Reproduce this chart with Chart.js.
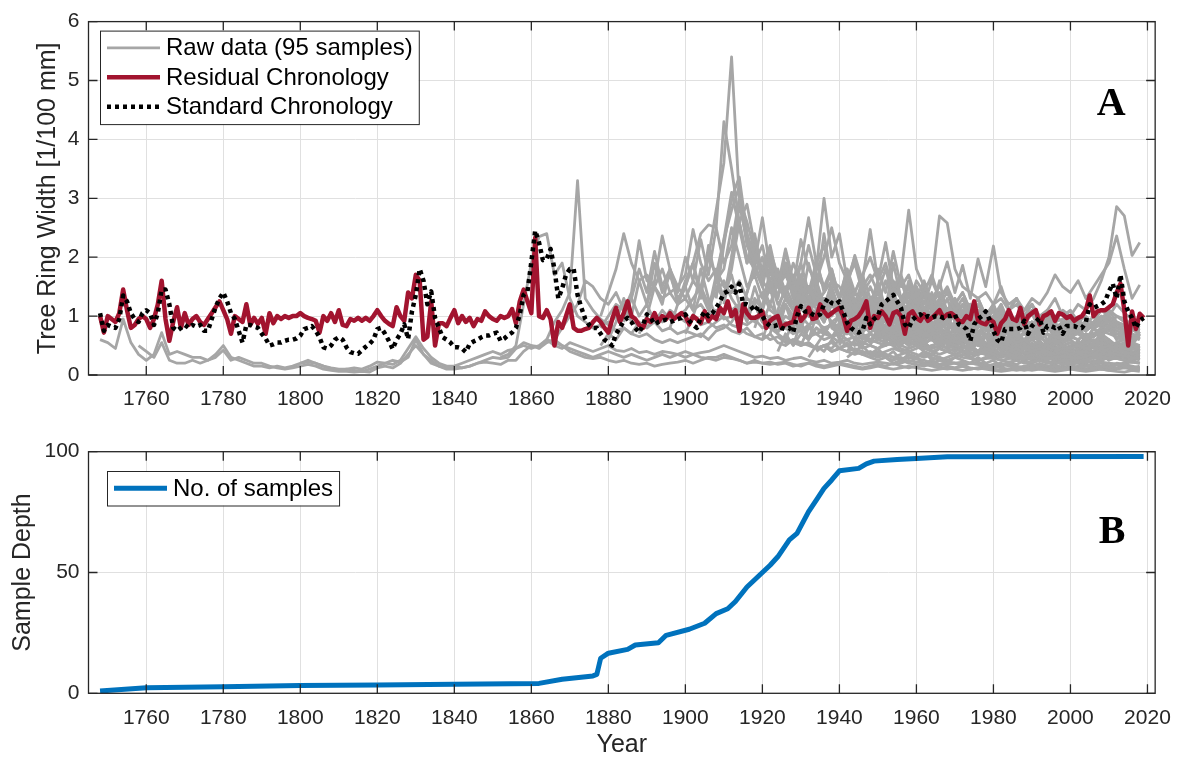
<!DOCTYPE html>
<html>
<head>
<meta charset="utf-8">
<title>Tree ring chronology</title>
<script src="https://cdn.jsdelivr.net/npm/chart.js@4.4.1/dist/chart.umd.min.js"></script>
<style>
  html, body { margin: 0; padding: 0; background: #fff; }
  #wrap { position: relative; width: 1183px; height: 760px; }
  canvas { position: absolute; left: 0; }
  #ringChart { top: 0; }
  #depthChart { top: 430px; }
</style>
</head>
<body>
<div id="wrap">
  <canvas id="ringChart" width="1183" height="430"></canvas>
  <canvas id="depthChart" width="1183" height="330"></canvas>
</div>
<script>
// ---- chronologies, one value per year from chronStart ----
var chronStart = 1748;
var residual = [
  1.0, 0.72,
  1.0, 0.95, 0.9, 1.05, 1.45, 1.1, 0.8, 0.85, 0.95, 1.0,
  0.95, 0.8, 0.95, 1.2, 1.6, 0.95, 0.58, 0.9, 1.15, 0.8,
  1.05, 0.85, 0.95, 1.0, 0.9, 0.85, 0.95, 1.05, 1.15, 1.25,
  1.1, 0.95, 0.7, 1.0, 0.95, 0.9, 1.2, 0.85, 0.97, 0.87,
  0.97, 0.7, 1.05, 0.88, 1.0, 0.95, 1.0, 0.97, 1.0, 1.0,
  1.05, 1.0, 0.97, 0.95, 0.92, 0.72, 1.0, 0.92, 1.05, 0.9,
  1.1, 0.85, 0.83, 0.95, 0.92, 0.97, 0.92, 0.97, 0.92, 1.0,
  1.1, 1.0, 0.92, 0.87, 0.83, 1.15, 1.0, 0.92, 1.4, 1.3,
  1.7, 1.6, 0.6, 0.65, 1.25, 0.5, 0.88, 0.88, 0.83, 0.97,
  1.1, 0.88, 1.0, 0.9, 0.97, 0.83, 0.95, 0.92, 1.08, 1.0,
  0.95, 0.92, 1.0, 0.97, 1.0, 1.12, 0.88, 1.25, 1.45, 1.25,
  1.05, 2.33, 1.0, 0.97, 1.1, 0.95, 0.5, 0.9, 0.8, 1.0,
  1.2, 0.8, 0.75, 0.75, 0.78, 0.8, 0.9, 0.97, 0.9, 0.8,
  0.72, 0.95, 1.14, 0.9, 1.05, 1.25, 1.0, 0.95, 0.85, 0.8,
  0.95, 0.9, 1.05, 0.9, 1.0, 0.95, 1.05, 0.95, 1.0, 1.05,
  1.0, 0.86, 1.0, 0.95, 0.88, 1.08, 0.92, 1.0, 0.95, 1.14,
  1.05, 1.25, 1.0, 1.1, 0.75, 1.2, 1.05, 0.97, 0.97, 1.0,
  1.08, 0.8, 0.92, 0.97, 1.0, 0.8, 0.86, 0.88, 0.9, 1.14,
  0.92, 1.0, 1.14, 0.95, 0.97, 1.2, 1.08, 1.0, 1.05, 1.1,
  1.14, 1.0, 0.75, 0.92, 0.95, 1.0, 1.1, 1.25, 0.8, 1.0,
  0.97, 1.08, 1.0, 0.86, 1.05, 1.08, 1.0, 0.7, 1.03, 1.08,
  0.97, 0.92, 1.03, 0.92, 0.97, 1.03, 1.1, 0.97, 1.03, 1.05,
  1.0, 0.92, 0.9, 1.0, 0.95, 1.25, 0.92, 0.88, 0.86, 0.95,
  0.9, 0.7, 0.88, 0.95, 1.1, 0.95, 0.92, 1.14, 0.86, 1.0,
  1.05, 1.1, 0.86, 1.0, 1.03, 1.08, 0.92, 1.05, 1.03, 0.97,
  1.0, 0.92, 0.97, 1.0, 1.1, 1.35, 1.0, 1.08, 1.1, 1.1,
  1.15, 1.2, 1.4, 1.55, 1.1, 0.5, 1.08, 0.78, 1.04, 0.97
];
var standard = [
  1.05, 0.75,
  0.85, 0.82, 0.8, 0.95, 1.35, 1.25, 1.05, 0.95, 0.9, 1.05,
  1.1, 1.05, 0.85, 1.05, 1.45, 1.45, 1.2, 0.8, 0.75, 0.8,
  0.85, 0.8, 0.85, 0.82, 0.85, 0.75, 0.75, 0.95, 1.15, 1.3,
  1.4, 1.25, 1.05, 0.95, 0.75, 0.55, 0.85, 0.85, 0.82, 0.8,
  0.7, 0.62, 0.5, 0.52, 0.55, 0.55, 0.58, 0.6, 0.6, 0.62,
  0.67, 0.78, 0.8, 0.83, 0.75, 0.64, 0.47, 0.45, 0.5, 0.6,
  0.64, 0.6, 0.47, 0.39, 0.37, 0.36, 0.42, 0.48, 0.53, 0.6,
  0.78, 0.8, 0.7, 0.58, 0.44, 0.6, 0.7, 0.86, 0.61, 1.08,
  1.36, 1.8, 1.6, 1.2, 1.42, 0.97, 0.8, 0.64, 0.6, 0.55,
  0.47, 0.47, 0.45, 0.39, 0.53, 0.57, 0.6, 0.64, 0.67, 0.67,
  0.7, 0.72, 0.58, 0.62, 0.68, 0.72, 0.8, 1.03, 1.36, 1.42,
  1.92, 2.45, 2.25, 1.95, 1.97, 2.14, 1.8, 1.3, 1.47, 1.7,
  1.8, 1.8, 1.36, 1.14, 0.95, 0.85, 0.8, 0.8, 0.7, 0.6,
  0.55, 0.5, 0.7, 0.8, 0.92, 0.97, 0.9, 0.8, 0.72, 0.85,
  1.03, 0.97, 0.86, 0.9, 0.92, 0.94, 0.9, 0.92, 0.95, 0.97,
  1.03, 0.92, 0.85, 0.8, 0.97, 1.08, 1.0, 1.05, 1.14, 1.25,
  1.39, 1.42, 1.5, 1.4, 1.55, 1.2, 1.2, 1.17, 1.08, 1.17,
  1.0, 0.89, 0.83, 0.83, 0.85, 0.8, 0.78, 0.8, 0.72, 1.0,
  1.17, 1.08, 1.08, 1.03, 1.0, 1.03, 1.2, 1.3, 1.22, 1.2,
  1.25, 1.08, 0.89, 0.8, 0.75, 0.72, 0.75, 0.97, 0.86, 0.95,
  1.0, 1.2, 1.25, 1.3, 1.36, 1.25, 1.14, 0.86, 0.8, 0.94,
  1.0, 1.03, 0.97, 1.0, 0.97, 1.0, 1.0, 0.97, 1.0, 1.0,
  1.03, 0.86, 0.83, 0.78, 0.58, 0.86, 0.95, 1.0, 1.08, 0.94,
  0.75, 0.6, 0.55, 0.78, 0.78, 0.78, 0.78, 0.8, 0.92, 0.7,
  0.83, 0.9, 0.97, 0.72, 0.83, 0.83, 0.8, 0.83, 0.7, 0.83,
  0.83, 0.83, 0.8, 0.8, 0.9, 1.2, 1.14, 1.17, 1.2, 1.25,
  1.42, 1.55, 1.3, 1.7, 1.25, 1.08, 0.97, 0.8, 0.92, 0.97
];

// ---- raw ring widths per core, every second year from its first ring ----
var rawStep = 2;
var rawStart = [1748, 1758, 1800, 1852, 1862, 1866, 1878, 1878, 1878, 1890, 1898, 1904, 1908,
                1912, 1916, 1920, 1924, 1928, 1932, 1934, 1936, 1938, 1940, 1942, 1946, 1950,
                1880, 1884, 1888, 1896, 1900, 1906, 1910, 1914, 1918, 1922, 1926, 1930, 1934,
                1938, 1942, 1946, 1948, 1940,
                1916, 1920, 1924, 1928, 1932, 1936, 1940, 1944, 1948, 1952];
var raw01 = [0.6, 0.55, 0.45, 0.95, 0.55, 0.35, 0.25, 0.35, 0.72, 0.35, 0.4, 0.35, 0.3, 0.3, 0.25, 0.35, 0.5, 0.3, 0.25, 0.2, 0.15, 0.15, 0.12, 0.15, 0.12, 0.15,
  0.2, 0.22, 0.2, 0.15, 0.12, 0.1, 0.1, 0.12, 0.1, 0.15, 0.22, 0.2, 0.18, 0.25, 0.45, 0.65, 0.45, 0.3, 0.2, 0.15, 0.15, 0.12, 0.15, 0.2, 0.22,
  0.2, 0.18, 0.25, 0.25, 0.4, 0.5, 0.45, 0.55, 0.6, 0.5, 0.4, 0.35, 0.3, 0.28, 0.3, 0.25, 0.22, 0.25, 0.2, 0.18, 0.2, 0.15, 0.18, 0.2, 0.22,
  0.25, 0.2, 0.25, 0.3, 0.3, 0.35, 0.3, 0.25, 0.2, 0.25, 0.2, 0.22, 0.18, 0.2, 0.15, 0.18, 0.2, 0.15, 0.12, 0.15, 0.18, 0.15, 0.12, 0.1, 0.12,
  0.15, 0.12, 0.1, 0.12, 0.15, 0.12, 0.1, 0.08, 0.1, 0.12, 0.1, 0.08, 0.1, 0.12, 0.1, 0.08, 0.06, 0.08, 0.1, 0.08, 0.1, 0.12, 0.1, 0.08, 0.1,
  0.12, 0.1, 0.08, 0.1, 0.15, 0.12, 0.18, 0.15, 0.12, 0.1];
var raw02 = [0.5, 0.4, 0.3, 0.55, 0.25, 0.2, 0.2, 0.25, 0.2, 0.25, 0.3, 0.42, 0.25, 0.3, 0.25, 0.2, 0.2, 0.15, 0.12, 0.1, 0.12,
  0.15, 0.18, 0.15, 0.1, 0.08, 0.06, 0.06, 0.05, 0.06, 0.05, 0.12, 0.15, 0.12, 0.2, 0.35, 0.5, 0.35, 0.25, 0.15, 0.1, 0.1, 0.12, 0.15, 0.2, 0.25,
  0.3, 0.28, 0.3, 0.45, 0.5, 0.45, 0.5, 0.6, 0.55, 0.5, 0.45, 0.4, 0.35, 0.3, 0.35, 0.4, 0.35, 0.3, 0.35, 0.3, 0.25, 0.3, 0.35, 0.3, 0.35,
  0.3, 0.35, 0.3, 0.28, 0.25, 0.3, 0.28, 0.25, 0.2, 0.22, 0.2, 0.18, 0.2, 0.22, 0.18, 0.15, 0.2, 0.18, 0.15, 0.18, 0.2, 0.18, 0.15, 0.12, 0.15,
  0.18, 0.15, 0.2, 0.15, 0.12, 0.15, 0.18, 0.15, 0.12, 0.1, 0.12, 0.15, 0.12, 0.1, 0.12, 0.15, 0.12, 0.1, 0.08, 0.1, 0.12, 0.1, 0.12, 0.15, 0.12,
  0.1, 0.12, 0.15, 0.12, 0.1, 0.15, 0.2, 0.18, 0.15, 0.12];
var raw03 = [0.2, 0.25, 0.2, 0.15, 0.1, 0.08, 0.1, 0.08, 0.06, 0.1, 0.15, 0.2, 0.25, 0.22, 0.3, 0.6, 0.35, 0.2, 0.15, 0.12, 0.15, 0.2, 0.25, 0.3, 0.35,
  0.4, 0.35, 0.42, 0.45, 0.55, 0.5, 0.48, 0.6, 0.5, 0.45, 0.55, 0.5, 0.45, 0.4, 0.45, 0.5, 0.42, 0.4, 0.45, 0.38, 0.4, 0.35, 0.4, 0.38, 0.35,
  0.4, 0.35, 0.38, 0.4, 0.45, 0.5, 0.45, 0.4, 0.35, 0.3, 0.32, 0.28, 0.3, 0.25, 0.28, 0.3, 0.25, 0.22, 0.25, 0.2, 0.22, 0.25, 0.2, 0.18, 0.2,
  0.22, 0.2, 0.18, 0.2, 0.25, 0.22, 0.2, 0.18, 0.15, 0.18, 0.2, 0.22, 0.2, 0.18, 0.15, 0.18, 0.2, 0.15, 0.12, 0.15, 0.18, 0.15, 0.12, 0.1, 0.12,
  0.15, 0.12, 0.1, 0.12, 0.15, 0.2, 0.18, 0.15, 0.12, 0.15];
var raw04 = [0.3, 0.35, 0.5, 1.2, 1.9, 2.35, 2.4, 1.7, 1.9, 1.3, 1.0, 0.9, 0.8, 0.85, 0.9, 0.75, 0.8, 0.7, 0.65, 0.7, 0.6, 0.55, 0.6, 0.55,
  0.6, 0.65, 0.7, 0.6, 0.75, 0.8, 0.9, 1.1, 1.3, 1.2, 0.9, 0.8, 0.7, 0.6, 0.55, 0.5, 0.55, 0.45, 0.5, 0.4, 0.45, 0.5, 0.4, 0.35, 0.4,
  0.35, 0.4, 0.45, 0.4, 0.35, 0.3, 0.35, 0.3, 0.25, 0.3, 0.35, 0.3, 0.28, 0.25, 0.3, 0.28, 0.25, 0.22, 0.25, 0.2, 0.22, 0.25, 0.2, 0.22, 0.18,
  0.2, 0.22, 0.25, 0.2, 0.25, 0.3, 0.28, 0.25, 0.22, 0.2];
var raw05 = [0.45, 0.6, 0.9, 1.1, 1.4, 3.3, 1.3, 1.1, 0.95, 0.85, 1.0, 1.2, 0.9, 0.85, 0.8, 0.9, 0.75, 0.8, 0.7,
  0.75, 0.7, 0.65, 0.8, 0.9, 1.0, 0.85, 0.8, 0.7, 0.65, 0.6, 0.7, 0.55, 0.5, 0.6, 0.55, 0.5, 0.45, 0.5, 0.55, 0.45, 0.4, 0.45, 0.4, 0.35,
  0.4, 0.35, 0.3, 0.35, 0.4, 0.35, 0.3, 0.35, 0.3, 0.25, 0.3, 0.35, 0.3, 0.25, 0.28, 0.3, 0.25, 0.28, 0.3, 0.25, 0.2, 0.25, 0.22, 0.2, 0.25,
  0.22, 0.2, 0.25, 0.3, 0.28, 0.35, 0.3, 0.25, 0.28, 0.3];
var raw06 = [0.6, 0.8, 1.0, 1.2, 1.6, 1.5, 1.3, 1.2, 1.4, 1.1, 1.3, 1.0, 1.2, 0.9, 1.1, 0.95, 1.0,
  1.1, 1.3, 1.5, 1.2, 1.4, 1.6, 1.3, 1.1, 1.0, 1.2, 0.9, 0.95, 0.85, 0.8, 0.9, 0.75, 0.8, 0.7, 0.75, 0.65, 0.7, 0.6, 0.65, 0.55, 0.6,
  0.55, 0.5, 0.6, 0.5, 0.45, 0.5, 0.45, 0.4, 0.45, 0.4, 0.35, 0.4, 0.38, 0.35, 0.4, 0.35, 0.3, 0.35, 0.32, 0.3, 0.35, 0.3, 0.28, 0.3, 0.32,
  0.3, 0.28, 0.32, 0.35, 0.3, 0.38, 0.35, 0.32, 0.3, 0.35];
var raw07 = [1.0, 1.4, 1.8, 2.4, 1.9, 1.6, 1.7, 1.5, 1.8, 1.4, 1.5,
  1.3, 1.6, 1.4, 1.2, 1.5, 1.3, 1.1, 1.2, 1.0, 0.9, 1.1, 0.95, 0.85, 0.9, 0.8, 0.75, 0.85, 0.7, 0.8, 0.65, 0.7, 0.75, 0.6, 0.65, 0.55,
  0.6, 0.55, 0.5, 0.55, 0.6, 0.5, 0.45, 0.5, 0.55, 0.45, 0.4, 0.45, 0.5, 0.4, 0.45, 0.4, 0.35, 0.4, 0.45, 0.38, 0.35, 0.4, 0.35, 0.3, 0.35,
  0.3, 0.35, 0.4, 0.35, 0.45, 0.5, 0.45, 0.4, 0.35, 0.4];
var raw08 = [0.8, 1.0, 1.2, 1.1, 1.4, 2.28, 1.6, 1.5, 1.3, 1.4, 1.2,
  1.3, 1.1, 1.2, 1.0, 1.1, 0.95, 1.0, 0.9, 0.85, 0.95, 0.8, 0.85, 0.75, 0.8, 0.7, 0.75, 0.65, 0.7, 0.6, 0.65, 0.55, 0.6, 0.5, 0.55, 0.5,
  0.45, 0.5, 0.55, 0.45, 0.4, 0.45, 0.5, 0.4, 0.35, 0.4, 0.45, 0.4, 0.35, 0.38, 0.35, 0.3, 0.35, 0.32, 0.3, 0.28, 0.3, 0.25, 0.28, 0.3, 0.25,
  0.28, 0.3, 0.25, 0.3, 0.35, 0.3, 0.28, 0.32, 0.3, 0.25];
var raw09 = [0.5, 0.7, 0.6, 0.8, 0.7, 0.9, 0.8, 1.0, 0.9, 1.1, 1.0,
  0.9, 1.0, 0.85, 0.9, 0.8, 0.85, 0.75, 0.7, 0.8, 0.65, 0.7, 0.6, 0.65, 0.55, 0.6, 0.5, 0.55, 0.45, 0.5, 0.4, 0.45, 0.4, 0.35, 0.4, 0.35,
  0.3, 0.35, 0.3, 0.25, 0.3, 0.28, 0.25, 0.2, 0.25, 0.22, 0.2, 0.18, 0.2, 0.22, 0.18, 0.15, 0.18, 0.2, 0.15, 0.12, 0.15, 0.18, 0.15, 0.12, 0.15,
  0.12, 0.15, 0.18, 0.15, 0.12, 0.1, 0.12, 0.15, 0.12, 0.1];
var raw10 = [1.2, 1.6, 2.36, 1.8, 1.5,
  1.7, 2.47, 1.9, 1.6, 1.8, 1.5, 1.4, 1.6, 1.3, 1.2, 1.4, 1.1, 1.0, 1.2, 0.9, 1.0, 0.85, 0.9, 0.8, 0.85, 0.75, 0.8, 0.7, 0.65, 0.7,
  0.6, 0.65, 0.55, 0.6, 0.5, 0.55, 0.45, 0.5, 0.45, 0.4, 0.45, 0.4, 0.35, 0.4, 0.35, 0.3, 0.35, 0.3, 0.28, 0.3, 0.25, 0.28, 0.3, 0.25, 0.22,
  0.25, 0.22, 0.2, 0.25, 0.22, 0.2, 0.18, 0.2, 0.22, 0.2];
var raw11 = [1.2, 1.5, 1.9, 2.4, 2.55, 2.5, 4.3, 3.5, 2.6, 2.0, 1.8, 1.6, 1.4, 1.5, 1.3, 1.2, 1.1, 1.2, 1.0, 1.1, 0.9, 1.0, 0.85, 0.8, 0.75, 0.8,
  0.7, 0.75, 0.65, 0.7, 0.6, 0.65, 0.55, 0.6, 0.5, 0.55, 0.5, 0.45, 0.5, 0.4, 0.45, 0.4, 0.35, 0.4, 0.35, 0.3, 0.35, 0.3, 0.28, 0.3, 0.25,
  0.3, 0.28, 0.25, 0.3, 0.35, 0.3, 0.28, 0.25, 0.3, 0.28];
var raw12 = [1.5, 2.0, 2.8, 3.6, 5.4, 3.0, 2.2, 1.9, 2.67, 1.8, 1.5, 1.7, 1.4, 1.3, 1.5, 1.2, 1.1, 1.3, 1.0, 1.1, 0.9, 0.95, 0.85,
  0.8, 0.85, 0.75, 0.8, 0.7, 0.75, 0.65, 0.7, 0.6, 0.65, 0.55, 0.6, 0.5, 0.55, 0.5, 0.45, 0.5, 0.45, 0.4, 0.45, 0.4, 0.35, 0.4, 0.35, 0.3,
  0.35, 0.3, 0.35, 0.4, 0.35, 0.45, 0.5, 0.45, 0.4, 0.35];
var raw13 = [1.3, 2.2, 3.0, 3.36, 2.4, 2.0, 1.7, 1.9, 1.5, 2.14, 1.6, 1.4, 1.5, 1.3, 1.2, 1.4, 1.1, 1.0, 1.2, 0.9, 1.0,
  0.9, 0.95, 0.8, 0.85, 0.75, 0.8, 0.7, 0.75, 0.65, 0.7, 0.6, 0.65, 0.55, 0.6, 0.5, 0.55, 0.5, 0.45, 0.5, 0.45, 0.4, 0.45, 0.4, 0.35, 0.4,
  0.35, 0.4, 0.38, 0.35, 0.4, 0.45, 0.4, 0.35, 0.38, 0.4];
var raw14 = [2.0, 2.9, 2.3, 1.7, 2.0, 1.5, 1.7, 1.4, 1.6, 1.9, 2.67, 1.9, 2.2, 1.6, 1.5, 1.3, 1.4, 1.2, 1.3,
  1.1, 1.2, 1.0, 1.1, 0.9, 1.0, 0.85, 0.9, 0.8, 0.85, 0.75, 0.8, 0.7, 0.75, 0.65, 0.7, 0.6, 0.65, 0.55, 0.6, 0.5, 0.55, 0.5, 0.45, 0.5,
  0.45, 0.5, 0.45, 0.5, 0.55, 0.5, 0.45, 0.5, 0.45, 0.4];
var raw15 = [1.4, 1.8, 1.5, 1.2, 1.6, 1.3, 1.1, 1.4, 1.2, 1.8, 3.0, 2.0, 2.4, 1.6, 1.4, 1.7, 1.3,
  1.4, 1.2, 1.3, 1.1, 1.2, 1.0, 1.1, 0.95, 1.0, 0.9, 0.85, 0.9, 0.8, 0.85, 0.75, 0.8, 0.7, 0.75, 0.65, 0.7, 0.6, 0.65, 0.55, 0.6, 0.5,
  0.55, 0.5, 0.55, 0.6, 0.55, 0.5, 0.45, 0.5, 0.55, 0.5];
var raw16 = [0.9, 1.2, 1.0, 1.3, 1.1, 1.5, 1.3, 1.2, 1.4, 1.6, 1.3, 1.5, 2.03, 1.6, 2.47,
  1.6, 2.25, 1.5, 1.7, 2.8, 1.8, 1.5, 1.6, 2.7, 2.58, 1.8, 1.5, 1.4, 1.3, 1.4, 1.2, 1.3, 1.1, 1.2, 1.0, 1.1, 0.95, 1.0, 0.9, 0.95,
  0.9, 0.85, 0.9, 0.8, 0.85, 0.9, 0.8, 0.75, 0.8, 0.7];
var raw17 = [0.8, 1.0, 0.9, 1.2, 1.0, 1.1, 0.9, 1.2, 1.0, 1.3, 1.1, 1.4, 1.2,
  1.3, 1.1, 1.5, 1.3, 1.2, 1.6, 1.4, 1.3, 1.5, 1.92, 1.4, 1.86, 1.3, 1.97, 1.5, 2.19, 1.4, 1.2, 1.3, 1.1, 1.2, 1.0, 1.1, 1.0, 0.9,
  0.95, 0.85, 0.9, 0.8, 0.95, 1.0, 0.9, 0.85, 0.8, 0.75];
var raw18 = [0.5, 0.7, 0.6, 0.8, 0.7, 0.9, 0.8, 0.7, 0.9, 0.8, 1.0,
  0.9, 1.1, 0.95, 1.2, 1.0, 0.9, 1.1, 1.0, 0.85, 0.95, 0.8, 0.9, 0.85, 1.0, 0.9, 0.8, 0.95, 0.85, 0.9, 1.1, 1.3, 1.2, 1.4, 1.7, 1.5,
  1.4, 1.6, 1.3, 1.5, 1.7, 1.9, 2.36, 1.8, 1.3, 1.53];
var raw19 = [0.6, 0.8, 0.7, 0.65, 0.8, 0.7, 0.75, 0.6, 0.7,
  0.65, 0.8, 0.7, 0.75, 0.6, 0.7, 0.65, 0.8, 0.7, 0.75, 0.6, 0.7, 0.65, 0.6, 0.7, 0.55, 0.65, 0.6, 0.7, 0.8, 0.9, 0.85, 1.0, 0.9, 1.1,
  1.0, 1.2, 1.1, 1.3, 1.6, 2.0, 2.86, 2.7, 2.03, 2.25];
var raw20 = [0.4, 0.5, 0.45, 0.6, 0.5, 0.55, 0.45, 0.5,
  0.45, 0.55, 0.5, 0.4, 0.45, 0.5, 0.4, 0.35, 0.45, 0.4, 0.35, 0.4, 0.3, 0.35, 0.4, 0.3, 0.35, 0.3, 0.25, 0.3, 0.35, 0.3, 0.25, 0.3, 0.28,
  0.3, 0.25, 0.3, 0.35, 0.3, 0.4, 0.35, 0.3, 0.25, 0.3];
var raw21 = [1.0, 1.3, 1.1, 1.5, 1.2, 1.0, 1.1,
  1.0, 0.9, 1.2, 1.0, 0.9, 0.8, 0.95, 0.85, 0.75, 0.9, 0.8, 0.7, 0.85, 0.75, 0.7, 0.65, 0.75, 0.7, 0.6, 0.7, 0.65, 0.6, 0.7, 0.65, 0.6,
  0.65, 0.7, 0.6, 0.65, 0.75, 0.8, 0.9, 0.85, 0.7, 0.65];
var raw22 = [0.8, 0.7, 0.9, 0.8, 0.7, 0.6,
  0.7, 0.6, 0.65, 0.55, 0.6, 0.5, 0.55, 0.45, 0.5, 0.45, 0.5, 0.4, 0.45, 0.35, 0.4, 0.35, 0.3, 0.35, 0.3, 0.25, 0.3, 0.25, 0.2, 0.25, 0.2,
  0.18, 0.2, 0.15, 0.18, 0.2, 0.15, 0.12, 0.15, 0.12, 0.1];
var raw23 = [1.2, 1.0, 1.3, 1.1, 0.95,
  1.1, 1.0, 1.3, 1.2, 1.0, 1.1, 1.5, 1.3, 1.2, 1.4, 1.1, 1.2, 1.0, 1.1, 0.9, 1.0, 1.2, 0.9, 0.85, 1.0, 0.8, 0.9, 0.85, 0.75, 0.8,
  0.75, 0.85, 0.8, 0.9, 1.1, 1.0, 1.2, 1.05, 0.95, 0.9];
var raw24 = [0.3, 0.4, 0.35, 0.3,
  0.25, 0.3, 0.2, 0.25, 0.2, 0.18, 0.15, 0.2, 0.18, 0.15, 0.12, 0.15, 0.1, 0.12, 0.15, 0.1, 0.08, 0.1, 0.12, 0.1, 0.08, 0.1, 0.08, 0.06, 0.08,
  0.1, 0.08, 0.06, 0.08, 0.1, 0.08, 0.06, 0.05, 0.08, 0.06];
var raw25 = [0.9, 1.2,
  1.4, 1.1, 1.3, 1.0, 1.2, 1.4, 1.1, 1.0, 1.2, 0.9, 1.0, 1.1, 0.9, 1.0, 0.8, 0.9, 1.0, 0.85, 0.75, 0.9, 0.8, 0.7, 0.8, 0.75, 0.65,
  0.7, 0.8, 0.75, 0.85, 0.9, 0.8, 1.0, 0.95, 0.85, 0.8];
var raw26 = [0.6, 0.7, 0.55, 0.65, 0.5, 0.6, 0.55, 0.45, 0.5, 0.6, 0.5, 0.45, 0.55, 0.5, 0.45, 0.55, 0.5, 0.4, 0.45, 0.5, 0.4, 0.45, 0.5, 0.45, 0.4,
  0.45, 0.5, 0.45, 0.55, 0.6, 0.5, 0.55, 0.6, 0.5, 0.45];
var raw27 = [0.6, 0.9, 1.3, 1.0, 1.6, 1.2, 1.9, 1.4, 1.7, 1.3,
  1.5, 1.1, 1.8, 1.3, 1.0, 1.4, 1.7, 1.2, 0.9, 1.3, 1.1, 1.5, 0.9, 1.2, 1.0, 0.8, 1.1, 0.9, 1.3, 0.8, 1.0, 0.7, 0.9, 1.1, 0.8,
  0.9, 0.7, 1.0, 0.8, 0.6, 0.9, 0.7, 0.8, 0.6, 0.75, 0.55, 0.8, 0.6, 0.7, 0.5, 0.65, 0.75, 0.55, 0.6, 0.5, 0.7, 0.55, 0.45, 0.6, 0.5,
  0.55, 0.45, 0.6, 0.5, 0.65, 0.55, 0.5, 0.7, 0.45, 0.5];
var raw28 = [0.9, 1.3, 1.8, 1.4, 2.1, 1.5, 1.8, 1.2,
  1.6, 1.9, 1.3, 2.2, 1.6, 1.8, 2.5, 2.0, 1.5, 1.7, 1.3, 1.6, 1.2, 1.4, 1.1, 1.5, 1.0, 1.3, 0.9, 1.2, 1.0, 1.1, 0.8, 1.0, 0.9,
  0.8, 1.0, 0.7, 0.9, 0.75, 0.6, 0.85, 0.7, 0.55, 0.8, 0.6, 0.7, 0.5, 0.65, 0.55, 0.45, 0.6, 0.5, 0.4, 0.55, 0.45, 0.5, 0.4, 0.35, 0.45,
  0.4, 0.35, 0.45, 0.5, 0.4, 0.55, 0.45, 0.4, 0.35, 0.4];
var raw29 = [0.7, 1.0, 1.5, 1.2, 1.8, 1.4,
  2.0, 1.6, 2.3, 1.7, 2.5, 1.9, 2.2, 3.0, 2.6, 2.1, 1.8, 2.2, 1.6, 1.9, 1.4, 1.7, 1.3, 1.5, 1.2, 1.4, 1.1, 1.3, 1.0, 1.2, 0.9,
  1.1, 0.9, 1.0, 0.8, 1.0, 0.75, 0.9, 0.7, 0.85, 0.65, 0.8, 0.6, 0.7, 0.55, 0.65, 0.5, 0.6, 0.45, 0.55, 0.5, 0.4, 0.5, 0.45, 0.35, 0.45,
  0.4, 0.45, 0.35, 0.5, 0.45, 0.4, 0.5, 0.45, 0.35, 0.4];
var raw30 = [0.8, 1.2,
  1.5, 1.9, 1.4, 2.0, 1.7, 2.3, 2.8, 3.2, 2.4, 1.9, 2.2, 1.6, 1.8, 1.4, 1.7, 1.2, 1.5, 1.1, 1.3, 1.0, 1.2, 0.9, 1.1, 0.8, 1.0,
  0.85, 0.95, 0.7, 0.9, 0.65, 0.8, 0.6, 0.75, 0.55, 0.7, 0.5, 0.65, 0.5, 0.6, 0.45, 0.55, 0.4, 0.5, 0.45, 0.35, 0.45, 0.4, 0.3, 0.4, 0.35,
  0.3, 0.35, 0.4, 0.3, 0.35, 0.4, 0.35, 0.3, 0.35, 0.3];
var raw31 = [0.7, 1.0, 1.4, 1.1, 1.7, 1.3, 2.0, 2.6, 2.9, 2.2, 1.6, 2.0, 1.5, 1.8, 1.3, 1.6, 1.2, 1.5, 1.0, 1.3, 0.9, 1.2, 1.0, 0.8, 1.0,
  0.9, 0.7, 0.85, 0.6, 0.8, 0.55, 0.7, 0.6, 0.5, 0.65, 0.45, 0.6, 0.5, 0.4, 0.55, 0.45, 0.35, 0.5, 0.4, 0.3, 0.45, 0.35, 0.3, 0.4, 0.3,
  0.35, 0.3, 0.25, 0.35, 0.3, 0.4, 0.35, 0.3, 0.25, 0.3];
var raw32 = [1.0, 1.6, 2.3, 3.1, 2.5, 1.9, 2.4, 1.7, 2.1, 1.5, 1.9, 1.4, 1.7, 1.2, 1.5, 1.1, 1.4, 1.0, 1.3, 0.9, 1.1, 0.95,
  1.0, 0.8, 0.95, 0.7, 0.9, 0.65, 0.8, 0.6, 0.75, 0.55, 0.7, 0.5, 0.65, 0.55, 0.45, 0.6, 0.5, 0.4, 0.55, 0.45, 0.35, 0.5, 0.4, 0.35, 0.45,
  0.4, 0.35, 0.45, 0.4, 0.5, 0.45, 0.4, 0.35, 0.4, 0.35];
var raw33 = [1.2, 1.8, 2.6, 1.9, 2.2, 1.6, 2.0, 1.5, 1.8, 1.3, 1.9, 1.4, 1.6, 1.2, 1.5, 1.1, 1.4, 1.0, 1.2, 0.9,
  1.1, 0.9, 1.0, 0.8, 1.0, 0.7, 0.9, 0.65, 0.85, 0.6, 0.8, 0.55, 0.7, 0.6, 0.5, 0.65, 0.55, 0.45, 0.6, 0.5, 0.4, 0.55, 0.45, 0.4, 0.5,
  0.45, 0.4, 0.5, 0.45, 0.55, 0.5, 0.45, 0.4, 0.45, 0.4];
var raw34 = [0.9, 1.4, 1.9, 1.5, 2.1, 1.7, 1.4, 1.9, 1.6, 2.2, 1.7, 1.5, 1.8, 1.3, 1.6, 1.2, 1.4, 1.1,
  1.3, 1.0, 1.2, 0.95, 1.1, 0.85, 1.0, 0.8, 0.95, 0.75, 0.9, 0.7, 0.85, 0.65, 0.8, 0.6, 0.7, 0.55, 0.65, 0.5, 0.6, 0.5, 0.45, 0.55, 0.45,
  0.5, 0.45, 0.55, 0.5, 0.6, 0.55, 0.5, 0.45, 0.5, 0.45];
var raw35 = [0.8, 1.2, 1.6, 1.3, 1.9, 1.5, 2.3, 1.8, 1.6, 2.0, 2.5, 1.9, 1.6, 2.0, 1.5, 1.7,
  1.4, 1.8, 1.3, 1.6, 1.2, 1.5, 1.1, 1.4, 1.0, 1.3, 0.9, 1.2, 0.85, 1.1, 0.8, 1.0, 0.75, 0.9, 0.7, 0.85, 0.65, 0.8, 0.6, 0.7, 0.55,
  0.65, 0.6, 0.7, 0.65, 0.75, 0.7, 0.65, 0.6, 0.65, 0.6];
var raw36 = [0.7, 1.1, 1.5, 1.2, 1.7, 1.4, 1.9, 1.5, 1.7, 1.3, 1.6, 1.9, 1.4, 1.6,
  1.8, 1.4, 2.1, 1.5, 1.7, 1.3, 1.6, 1.2, 1.4, 1.1, 1.3, 1.0, 1.2, 0.9, 1.1, 0.85, 1.0, 0.8, 0.95, 0.75, 0.9, 0.7, 0.85, 0.65, 0.8,
  0.7, 0.75, 0.65, 0.7, 0.8, 0.75, 0.7, 0.65, 0.7, 0.6];
var raw37 = [0.6, 0.9, 1.2, 1.0, 1.4, 1.1, 1.6, 1.3, 1.8, 1.4, 1.7, 2.0,
  1.6, 1.9, 1.4, 1.7, 1.3, 1.5, 1.2, 1.6, 1.3, 1.45, 1.1, 1.3, 1.0, 1.2, 0.95, 1.1, 0.9, 1.05, 0.85, 1.0, 0.8, 0.95, 0.75, 0.9, 0.7,
  0.8, 0.75, 0.85, 0.8, 0.9, 0.85, 0.75, 0.7, 0.8, 0.75];
var raw38 = [0.5, 0.8, 1.1, 0.9, 1.3, 1.0, 1.5, 1.2, 1.4, 1.1,
  1.3, 1.0, 1.4, 1.1, 1.6, 1.2, 1.5, 1.1, 1.3, 1.0, 1.2, 1.4, 1.1, 1.3, 1.0, 1.2, 0.9, 1.1, 1.3, 1.0, 1.2, 0.9, 1.0, 0.8, 0.9,
  0.85, 0.95, 0.8, 0.9, 1.0, 0.9, 0.85, 0.8, 0.9, 0.85];
var raw39 = [0.5, 0.7, 0.9, 0.8, 1.1, 0.9, 1.2, 1.0,
  1.1, 0.9, 1.2, 1.0, 0.85, 1.1, 0.9, 0.8, 1.0, 0.85, 0.75, 0.95, 0.8, 0.7, 0.85, 0.75, 0.65, 0.8, 0.7, 0.6, 0.75, 0.65, 0.55, 0.7, 0.6,
  0.65, 0.6, 0.7, 0.65, 0.75, 0.8, 0.7, 0.65, 0.6, 0.65];
var raw40 = [0.6, 0.9, 1.2, 1.0, 1.3, 1.1,
  1.4, 1.2, 1.6, 1.3, 1.5, 1.2, 1.4, 1.7, 1.3, 1.5, 1.2, 1.4, 1.1, 1.3, 1.0, 1.2, 1.5, 1.1, 1.3, 1.0, 1.2, 0.9, 1.1, 1.3, 1.0,
  1.1, 0.9, 1.0, 0.85, 0.95, 1.1, 1.0, 0.9, 0.85, 0.9];
var raw41 = [0.4, 0.6, 0.5, 0.7,
  0.6, 0.8, 0.65, 0.55, 0.7, 0.6, 0.5, 0.65, 0.55, 0.45, 0.6, 0.5, 0.4, 0.55, 0.45, 0.35, 0.5, 0.4, 0.3, 0.45, 0.35, 0.3, 0.4, 0.3, 0.25,
  0.3, 0.25, 0.35, 0.3, 0.25, 0.3, 0.35, 0.3, 0.25, 0.2];
var raw42 = [0.7, 1.0,
  1.2, 0.9, 1.1, 1.3, 1.0, 1.2, 0.95, 1.1, 0.85, 1.0, 1.2, 0.9, 1.05, 0.8, 0.95, 1.1, 0.85, 1.0, 0.75, 0.9, 1.05, 0.8, 0.95, 0.7, 0.85,
  0.8, 0.9, 0.75, 0.85, 1.0, 0.9, 0.8, 0.75, 0.85, 0.8];
var raw43 = [0.3,
  0.35, 0.3, 0.25, 0.3, 0.22, 0.28, 0.2, 0.25, 0.18, 0.22, 0.2, 0.15, 0.2, 0.18, 0.15, 0.12, 0.15, 0.18, 0.12, 0.1, 0.15, 0.12, 0.1, 0.12, 0.1,
  0.12, 0.1, 0.08, 0.12, 0.1, 0.08, 0.1, 0.12, 0.1, 0.08];
var raw44 = [0.8, 1.1, 1.4, 1.2, 1.5,
  1.2, 1.6, 1.3, 1.1, 1.4, 1.2, 1.0, 1.3, 1.1, 0.95, 1.2, 1.0, 0.9, 1.1, 0.95, 0.85, 1.0, 0.9, 0.8, 0.95, 0.85, 0.75, 0.9, 0.8, 0.7,
  0.8, 0.75, 0.85, 0.8, 0.9, 0.95, 0.85, 0.8, 0.75, 0.8];
var raw45 = [1.0, 1.5, 1.1, 1.8, 1.3, 2.1, 1.5, 1.2, 1.9, 1.4, 2.4, 1.6, 1.3, 1.8, 1.2, 1.6, 1.1,
  1.5, 1.0, 1.3, 0.8, 1.2, 0.9, 1.4, 0.8, 1.1, 0.7, 1.2, 0.8, 1.0, 0.6, 0.9, 0.7, 1.1, 0.6, 0.8, 0.5, 0.9, 0.6, 0.7, 0.5, 0.8,
  0.6, 0.9, 0.5, 0.8, 0.7, 1.0, 0.6, 0.8, 0.5, 0.7];
var raw46 = [0.6, 1.0, 0.7, 1.2, 0.8, 1.4, 1.0, 1.6, 1.1, 1.3, 0.9, 1.5, 1.0, 1.2, 0.8,
  1.1, 0.7, 1.0, 0.6, 0.9, 0.5, 0.8, 0.6, 0.9, 0.5, 0.7, 0.45, 0.8, 0.5, 0.65, 0.4, 0.7, 0.45, 0.6, 0.35, 0.55, 0.4, 0.6, 0.35, 0.5,
  0.4, 0.6, 0.35, 0.5, 0.45, 0.6, 0.4, 0.55, 0.35, 0.45];
var raw47 = [0.4, 0.7, 0.5, 0.9, 0.6, 1.0, 0.7, 0.9, 0.6, 1.1, 0.8, 1.2, 0.9,
  0.7, 1.0, 0.6, 0.9, 0.5, 0.8, 0.55, 0.75, 0.45, 0.7, 0.4, 0.65, 0.45, 0.6, 0.35, 0.55, 0.4, 0.5, 0.3, 0.45, 0.35, 0.5, 0.3, 0.4, 0.25,
  0.35, 0.25, 0.4, 0.3, 0.35, 0.25, 0.3, 0.35, 0.25, 0.3];
var raw48 = [1.0, 1.6, 1.2, 2.0, 1.4, 1.8, 1.3, 1.7, 1.1, 1.5, 1.2,
  1.6, 1.1, 1.9, 1.3, 1.5, 1.0, 1.4, 1.1, 1.6, 1.0, 1.3, 0.9, 1.2, 0.85, 1.1, 0.8, 1.2, 0.75, 1.0, 0.7, 0.9, 0.65, 0.85, 0.6, 0.8,
  0.6, 0.75, 0.55, 0.7, 0.65, 0.8, 0.6, 0.7, 0.55, 0.65];
var raw49 = [0.3, 0.5, 0.4, 0.6, 0.45, 0.55, 0.4, 0.5, 0.35,
  0.45, 0.3, 0.4, 0.25, 0.35, 0.3, 0.4, 0.25, 0.3, 0.2, 0.3, 0.25, 0.2, 0.3, 0.2, 0.25, 0.15, 0.22, 0.18, 0.25, 0.15, 0.2, 0.15, 0.18, 0.12,
  0.18, 0.12, 0.15, 0.2, 0.15, 0.12, 0.18, 0.15, 0.1, 0.12];
var raw50 = [0.9, 1.3, 1.0, 1.6, 1.2, 1.4, 1.0,
  1.3, 0.9, 1.2, 0.8, 1.1, 1.4, 1.0, 1.2, 0.8, 1.0, 0.7, 0.95, 0.75, 0.9, 0.65, 0.85, 0.6, 0.8, 0.55, 0.75, 0.6, 0.7, 0.5, 0.65, 0.55,
  0.6, 0.5, 0.65, 0.55, 0.7, 0.6, 0.5, 0.55, 0.45, 0.5];
var raw51 = [0.5, 0.8, 0.6, 0.9, 0.7,
  0.9, 0.6, 0.8, 0.55, 0.75, 0.5, 0.7, 0.9, 0.6, 0.8, 0.55, 0.75, 0.5, 0.7, 0.45, 0.65, 0.5, 0.6, 0.4, 0.55, 0.45, 0.6, 0.4, 0.5, 0.35,
  0.45, 0.55, 0.4, 0.5, 0.6, 0.45, 0.55, 0.4, 0.5, 0.45];
var raw52 = [0.7, 1.1, 0.9,
  1.2, 0.9, 1.1, 0.8, 1.0, 1.3, 0.9, 1.1, 0.75, 0.95, 1.2, 0.85, 1.0, 0.7, 0.9, 1.1, 0.8, 0.95, 0.7, 0.85, 1.05, 0.75, 0.9, 0.65, 0.8,
  0.95, 0.7, 0.85, 1.0, 0.8, 1.1, 0.9, 0.75, 0.85, 0.7];
var raw53 = [0.5,
  0.8, 0.55, 0.7, 0.5, 0.65, 0.9, 0.6, 0.75, 0.5, 0.65, 0.45, 0.7, 0.5, 0.6, 0.4, 0.65, 0.45, 0.55, 0.35, 0.6, 0.4, 0.5, 0.35, 0.45, 0.3,
  0.4, 0.3, 0.45, 0.35, 0.5, 0.4, 0.35, 0.45, 0.3, 0.35];
var raw54 = [0.6, 0.9, 1.2, 0.8, 1.1, 0.7, 1.0, 1.3, 0.9, 1.1, 0.8, 1.0, 0.7, 0.9, 1.2, 0.8, 1.0, 0.7, 0.9, 0.6, 0.85, 1.1, 0.75, 0.9,
  0.7, 0.85, 0.6, 0.8, 0.95, 0.75, 0.9, 0.7, 0.8, 0.65];
var rawCores = [raw01, raw02, raw03, raw04, raw05, raw06, raw07, raw08, raw09, raw10, raw11, raw12, raw13,
                raw14, raw15, raw16, raw17, raw18, raw19, raw20, raw21, raw22, raw23, raw24, raw25, raw26,
                raw27, raw28, raw29, raw30, raw31, raw32, raw33, raw34, raw35, raw36, raw37, raw38, raw39,
                raw40, raw41, raw42, raw43, raw44,
                raw45, raw46, raw47, raw48, raw49, raw50, raw51, raw52, raw53, raw54];

// ---- number of cores covering each year ----
var depthYears = [1748, 1760, 1780, 1800, 1820, 1840, 1862, 1868, 1876, 1877, 1878, 1880, 1885, 1887, 1893, 1895,
                  1901, 1905, 1908, 1911, 1913, 1916, 1920, 1922, 1924, 1927, 1929, 1932, 1934, 1936, 1938, 1940,
                  1945, 1947, 1949, 1955, 1960, 1968, 2019];
var depthCount = [1, 2.3, 2.7, 3.2, 3.4, 3.7, 4.1, 5.8, 7.2, 7.8, 14.5, 16.6, 18.2, 20, 20.9, 24,
                  26.5, 29, 33, 35, 38, 44, 50, 53, 56.5, 63.5, 66.2, 75.2, 80, 84.8, 88.3, 92.1,
                  93.1, 95, 96.1, 96.8, 97.2, 97.9, 98];

var yearTicks = [1760, 1780, 1800, 1820, 1840, 1860, 1880, 1900, 1920, 1940, 1960, 1980, 2000, 2020];
var widthTicks = [0, 1, 2, 3, 4, 5, 6];
var depthTicks = [0, 50, 100];

var textColor = '#262626';
var gridColor = '#e0e0e0';
var sansFamily = '"Liberation Sans", Arial, Helvetica, sans-serif';

function yearly(start, step, values) {
  return values.map(function (v, i) { return { x: start + i * step, y: v }; });
}

// box, inward tick marks, in-axes legend and panel letter
var panelDecor = {
  id: 'panelDecor',
  afterDraw: function (chart, args, o) {
    var ctx = chart.ctx, a = chart.chartArea;
    var sx = chart.scales.x, sy = chart.scales.y;
    ctx.save();
    ctx.strokeStyle = textColor;
    ctx.lineWidth = 1.3;
    ctx.strokeRect(a.left, a.top, a.right - a.left, a.bottom - a.top);
    ctx.beginPath();
    sx.ticks.forEach(function (t) {
      var px = sx.getPixelForValue(t.value);
      ctx.moveTo(px, a.bottom); ctx.lineTo(px, a.bottom - o.tickLen);
      ctx.moveTo(px, a.top); ctx.lineTo(px, a.top + o.tickLen);
    });
    sy.ticks.forEach(function (t) {
      var py = sy.getPixelForValue(t.value);
      ctx.moveTo(a.left, py); ctx.lineTo(a.left + o.tickLen, py);
      ctx.moveTo(a.right, py); ctx.lineTo(a.right - o.tickLen, py);
    });
    ctx.stroke();

    var items = chart.data.datasets.filter(function (d) { return d.legendRank; })
      .sort(function (p, q) { return p.legendRank - q.legendRank; });
    ctx.font = '24px ' + sansFamily;
    var w = 0;
    items.forEach(function (d) { w = Math.max(w, ctx.measureText(d.label).width); });
    var rowH = 29.5;
    var bx = a.left + o.legendAt[0], by = a.top + o.legendAt[1];
    var bw = 7 + 53 + 6 + w + 6, bh = items.length * rowH + 5;
    ctx.fillStyle = '#fff';
    ctx.fillRect(bx, by, bw, bh);
    ctx.lineWidth = 1;
    ctx.strokeStyle = textColor;
    ctx.strokeRect(bx + 0.5, by + 0.5, bw, bh);
    items.forEach(function (d, i) {
      var cy = by + 2.5 + rowH * i + rowH / 2;
      ctx.beginPath();
      ctx.setLineDash(d.borderDash || []);
      ctx.lineWidth = d.borderWidth;
      ctx.strokeStyle = d.borderColor;
      ctx.moveTo(bx + 7, cy);
      ctx.lineTo(bx + 60, cy);
      ctx.stroke();
      ctx.setLineDash([]);
      ctx.fillStyle = '#000';
      ctx.textAlign = 'left';
      ctx.textBaseline = 'middle';
      ctx.fillText(d.label, bx + 66, cy + 1);
    });

    ctx.font = 'bold 40px "Liberation Serif", "Times New Roman", serif';
    ctx.fillStyle = '#000';
    ctx.textAlign = 'center';
    ctx.textBaseline = 'middle';
    ctx.fillText(o.letter, a.right - o.letterAt[0], a.top + o.letterAt[1]);
    ctx.restore();
  }
};

function panelOptions(cfg) {
  return {
    responsive: false,
    animation: false,
    events: [],
    layout: { padding: { top: cfg.padTop, right: 25.3, left: 0, bottom: 0 } },
    elements: { point: { radius: 0 }, line: { tension: 0, borderJoinStyle: 'round' } },
    plugins: {
      legend: { display: false },
      tooltip: { enabled: false },
      panelDecor: cfg.decor
    },
    scales: {
      x: {
        type: 'linear',
        min: 1745,
        max: 2022,
        afterBuildTicks: function (s) { s.ticks = yearTicks.map(function (v) { return { value: v }; }); },
        afterFit: function (s) { s.height = cfg.xHeight; },
        border: { display: false },
        grid: { color: gridColor, lineWidth: 1, drawTicks: false },
        ticks: {
          padding: 12,
          color: textColor,
          font: { family: sansFamily, size: 21 },
          maxRotation: 0,
          callback: function (v) { return String(v); }
        },
        title: {
          display: !!cfg.xTitle,
          text: cfg.xTitle || '',
          color: textColor,
          font: { family: sansFamily, size: 25 },
          padding: { top: 0, bottom: 0 }
        }
      },
      y: {
        type: 'linear',
        min: cfg.yMin,
        max: cfg.yMax,
        afterBuildTicks: function (s) { s.ticks = cfg.yTicks.map(function (v) { return { value: v }; }); },
        afterFit: function (s) { s.width = 88.5; },
        border: { display: false },
        grid: { color: gridColor, lineWidth: 1, drawTicks: false },
        ticks: {
          padding: 9,
          color: textColor,
          font: { family: sansFamily, size: 21 },
          callback: function (v) { return String(v); }
        },
        title: {
          display: true,
          text: cfg.yTitle,
          color: textColor,
          font: { family: sansFamily, size: 25 },
          padding: { top: cfg.yTitlePad, bottom: 0 }
        }
      }
    }
  };
}

// ---- panel A: ring widths ----
var ringSets = [
  {
    label: 'Standard Chronology',
    legendRank: 3,
    data: yearly(chronStart, 1, standard),
    borderColor: '#000000',
    borderWidth: 4.5,
    borderDash: [4, 4],
    borderCapStyle: 'butt',
    order: 0
  },
  {
    label: 'Residual Chronology',
    legendRank: 2,
    data: yearly(chronStart, 1, residual),
    borderColor: '#a2142f',
    borderWidth: 4.5,
    order: 1
  }
];
rawCores.forEach(function (core, i) {
  ringSets.push({
    label: 'Raw data (95 samples)',
    legendRank: i === 0 ? 1 : 0,
    data: yearly(rawStart[i], rawStep, core),
    borderColor: '#a6a6a6',
    borderWidth: 2.8,
    order: 2
  });
});

new Chart(document.getElementById('ringChart'), {
  type: 'line',
  data: { datasets: ringSets },
  plugins: [panelDecor],
  options: panelOptions({
    padTop: 16,
    xHeight: 55,
    yMin: 0,
    yMax: 6,
    yTicks: widthTicks,
    yTitle: 'Tree Ring Width [1/100 mm]',
    yTitlePad: 33,
    decor: { tickLen: 9, legendAt: [11.5, 9], letter: 'A', letterAt: [44, 83] }
  })
});

// ---- panel B: sample depth ----
new Chart(document.getElementById('depthChart'), {
  type: 'line',
  data: {
    datasets: [{
      label: 'No. of samples',
      legendRank: 1,
      data: depthYears.map(function (yr, i) { return { x: yr, y: depthCount[i] }; }),
      borderColor: '#0072bd',
      borderWidth: 5
    }]
  },
  plugins: [panelDecor],
  options: panelOptions({
    padTop: 21.7,
    xHeight: 66.7,
    yMin: 0,
    yMax: 100,
    yTicks: depthTicks,
    yTitle: 'Sample Depth',
    yTitlePad: 8.5,
    xTitle: 'Year',
    decor: { tickLen: 9, legendAt: [18.5, 19.3], letter: 'B', letterAt: [43, 81] }
  })
});
</script>
</body>
</html>
